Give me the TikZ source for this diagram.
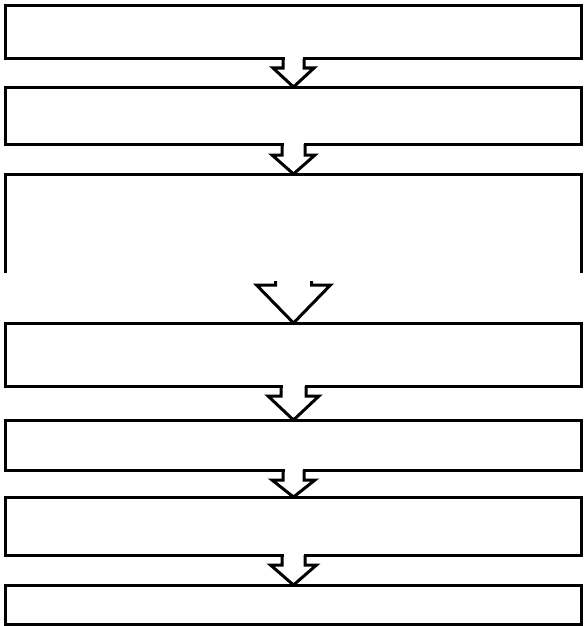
\documentclass[tikz,border=0pt]{standalone}
\usetikzlibrary{calc}
\tikzset{
  stagebox/.style={draw, line width=3pt, rectangle, inner sep=0pt, outer sep=0pt, minimum width=576pt, fill=white},
  openbox/.style={rectangle, inner sep=0pt, outer sep=0pt, minimum width=576pt},
  arrowline/.style={draw, line width=3pt, line join=miter}
}
\newcommand{\flowarrow}[5]{%
  \fill[white] ($(#1.south)+(-#3+1.5,-3)$) rectangle ($(#1.south)+(#3-1.5,3)$);
  \draw[arrowline] ($(#1.south)+(-#3,0)$) -- ++(0,#5) -- ++(-#4+#3,0) -- (#2.north)
     -- ($(#1.south)+(#4,#5)$) -- ++(-#4+#3,0) -- ($(#1.south)+(#3,0)$);
}
\begin{document}
\begin{tikzpicture}[x=1pt,y=-1pt]
\useasboundingbox (0,0) rectangle (587,626);
\node[stagebox, minimum height=53pt] (b1) at (293.5,32.5) {};
\node[stagebox, minimum height=57pt] (b2) at (293.5,115.5) {};
\node[openbox, minimum height=99pt] (b3) at (293.5,223.5) {};
\draw[line width=3pt] (b3.south west) -- (b3.north west) -- (b3.north east) -- (b3.south east);
\node[stagebox, minimum height=63pt] (b4) at (293.5,354.5) {};
\node[stagebox, minimum height=50pt] (b5) at (293.5,445) {};
\node[stagebox, minimum height=58pt] (b6) at (293.5,526) {};
\node[stagebox, minimum height=39pt] (b7) at (293.5,604.5) {};
\flowarrow{b1}{b2}{10.5}{20.5}{9}
\flowarrow{b2}{b3}{11.5}{21.5}{11}
\coordinate (a3) at (293.5,281);
\draw[arrowline] ($(a3)+(-18,0)$) -- ++(0,4) -- ++(-19,0) -- (b4.north)
   -- ($(a3)+(37,4)$) -- ++(-19,0) -- ++(0,-4);
\flowarrow{b4}{b5}{12.5}{25.5}{10}
\flowarrow{b5}{b6}{10.5}{21.5}{10}
\flowarrow{b6}{b7}{11.5}{23}{10}
\end{tikzpicture}
\end{document}
